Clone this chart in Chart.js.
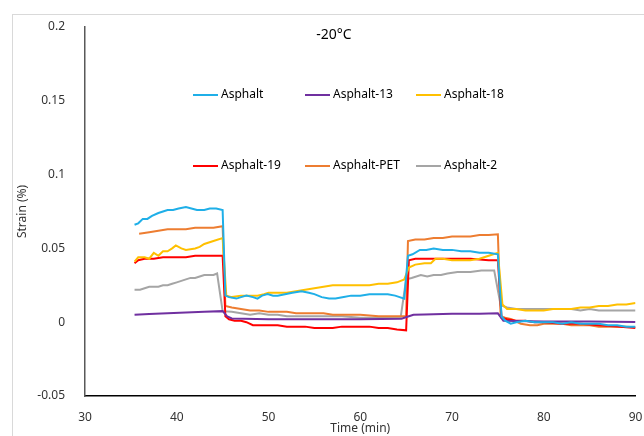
<!DOCTYPE html>
<html>
<head>
<meta charset="utf-8">
<script src="https://cdn.jsdelivr.net/npm/chart.js@4"></script>
<style>
  html, body { margin: 0; padding: 0; background: #fff; }
  #wrap { position: relative; width: 644px; height: 436px; overflow: hidden; }
  #frame { position: absolute; left: 12px; top: 14px; right: -2px; bottom: -2px; border: 1px solid #d9d9d9; }
  canvas { position: absolute; left: 0; top: 0; }
</style>
</head>
<body>
<div id="wrap">
  <div id="frame"></div>
  <canvas id="chart" width="644" height="436"></canvas>
</div>
<script>
// [time (min), strain (%)]
const asphalt = [
  [35.4, 0.066], [35.8, 0.067], [36.3, 0.070], [36.8, 0.070], [37.3, 0.072], [38, 0.074], [38.5, 0.075], [39, 0.076],
  [39.6, 0.076], [40.2, 0.077], [41, 0.078], [41.6, 0.077], [42.2, 0.076], [43, 0.076], [43.6, 0.077], [44.3, 0.077], [45, 0.076],
  [45.3, 0.018], [45.7, 0.017], [46.5, 0.016], [47, 0.017], [47.6, 0.018], [48.3, 0.017], [48.8, 0.016], [49.3, 0.018],
  [49.9, 0.019], [50.5, 0.018], [51, 0.018], [51.8, 0.019], [52.6, 0.020], [53.6, 0.021], [54.4, 0.020], [55, 0.019],
  [55.8, 0.017], [56.6, 0.016], [57.3, 0.016], [58.2, 0.017], [59, 0.018], [60, 0.018], [61, 0.019], [62, 0.019],
  [63, 0.019], [63.8, 0.018], [64.8, 0.016],
  [65.2, 0.045], [65.7, 0.046], [66.5, 0.049], [67.2, 0.049], [68, 0.050], [69, 0.049], [70, 0.049], [71, 0.048],
  [72, 0.048], [73, 0.047], [74, 0.047], [75, 0.046],
  [75.4, 0.004], [75.8, 0.001], [76.4, -0.001], [77, 0.0], [78, 0.001], [79, 0.0], [80, 0.0], [81, 0.0], [82, -0.001],
  [83, 0.0], [84, -0.001], [85, -0.001], [86, -0.001], [87, -0.002], [88, -0.002], [89, -0.003], [90, -0.003]
];
const asphalt13 = [
  [35.4, 0.005], [37, 0.0055], [39, 0.006], [41, 0.0065], [43, 0.007], [45, 0.0075], [45.5, 0.004], [46, 0.0025],
  [50, 0.002], [55, 0.002], [60, 0.002], [64.5, 0.0023], [65.3, 0.004], [65.8, 0.005], [67, 0.0053], [70, 0.0057],
  [73, 0.0057], [75, 0.006], [75.6, 0.001], [77, 0.0008], [80, 0.0005], [85, 0.0005], [90, 0.0002]
];
const asphalt18 = [
  [35.4, 0.041], [35.8, 0.044], [36.5, 0.044], [37, 0.043], [37.5, 0.047], [38, 0.045], [38.5, 0.048], [39, 0.048],
  [39.5, 0.050], [39.9, 0.052], [40.5, 0.050], [41, 0.049], [42, 0.050], [42.5, 0.051], [43, 0.053], [44, 0.055], [45, 0.057],
  [45.4, 0.018], [46, 0.017], [47, 0.018], [48, 0.018], [48.8, 0.018], [49.5, 0.019], [50, 0.020], [51, 0.020],
  [52, 0.020], [53, 0.021], [54, 0.022], [55, 0.023], [56, 0.024], [57, 0.025], [58, 0.025], [59, 0.025], [60, 0.025],
  [61, 0.025], [62, 0.026], [63, 0.026], [64, 0.027], [64.8, 0.029],
  [65.3, 0.037], [66, 0.039], [67, 0.040], [67.7, 0.040], [68.2, 0.043], [69, 0.043], [70, 0.042], [71, 0.042],
  [72, 0.042], [73, 0.043], [74, 0.045], [75, 0.047],
  [75.5, 0.012], [76, 0.009], [77, 0.009], [78, 0.008], [79, 0.008], [80, 0.008], [81, 0.009], [82, 0.009], [83, 0.009],
  [84, 0.010], [85, 0.010], [86, 0.011], [87, 0.011], [88, 0.012], [89, 0.012], [90, 0.013]
];
const asphalt19 = [
  [35.4, 0.040], [35.8, 0.042], [36.5, 0.043], [37.5, 0.043], [38.5, 0.044], [40, 0.044], [41, 0.044], [42, 0.045],
  [43, 0.045], [44, 0.045], [45, 0.045],
  [45.3, 0.004], [45.7, 0.002], [46.3, 0.001], [47, 0.001], [47.6, 0.0], [48.3, -0.002], [49, -0.002], [50, -0.002],
  [51, -0.002], [52, -0.003], [53, -0.003], [54, -0.003], [55, -0.004], [56, -0.004], [57, -0.004], [58, -0.003],
  [59, -0.003], [60, -0.003], [61, -0.003], [62, -0.004], [63, -0.004], [64, -0.005], [65, -0.0055],
  [65.3, 0.042], [66, 0.043], [68, 0.043], [70, 0.043], [72, 0.043], [74, 0.042], [75, 0.042],
  [75.4, 0.003], [76, 0.002], [77, 0.001], [78, 0.001], [79, 0.0], [80, 0.0], [82, -0.001], [84, -0.001],
  [86, -0.002], [88, -0.003], [90, -0.004]
];
const asphaltPET = [
  [35.9, 0.060], [37, 0.061], [38, 0.062], [39, 0.063], [40, 0.063], [41, 0.063], [42, 0.064], [43, 0.064], [44, 0.064], [45, 0.065],
  [45.3, 0.011], [46, 0.010], [47, 0.009], [48, 0.008], [49, 0.008], [50, 0.007], [51, 0.007], [52, 0.007], [53, 0.006],
  [54, 0.006], [55, 0.006], [56, 0.006], [57, 0.005], [58, 0.005], [59, 0.005], [60, 0.005], [62, 0.004], [64, 0.004], [65, 0.004],
  [65.2, 0.055], [66, 0.056], [67, 0.056], [68, 0.057], [69, 0.057], [70, 0.058], [71, 0.058], [72, 0.058], [73, 0.059],
  [74, 0.059], [75, 0.0595],
  [75.3, 0.004], [75.8, 0.003], [76.5, 0.002], [77.5, -0.001], [78.5, -0.002], [79.3, -0.002], [80, -0.001], [81, -0.001],
  [82, -0.001], [83, -0.002], [84, -0.002], [85, -0.002], [86, -0.003], [87, -0.003], [88, -0.003], [89, -0.003], [90, -0.0035]
];
const asphalt2 = [
  [35.4, 0.022], [36, 0.022], [36.5, 0.023], [37, 0.024], [38, 0.024], [38.5, 0.025], [39, 0.025], [39.5, 0.026],
  [40, 0.027], [41, 0.029], [41.5, 0.030], [42, 0.030], [42.5, 0.031], [43, 0.032], [44, 0.032], [44.4, 0.033],
  [45, 0.0075], [46, 0.007], [47, 0.006], [48, 0.005], [49, 0.006], [50, 0.005], [51, 0.005], [52, 0.004], [54, 0.004],
  [56, 0.004], [58, 0.004], [60, 0.003], [62, 0.003], [64.4, 0.003],
  [65, 0.029], [65.6, 0.030], [66.6, 0.032], [67.3, 0.031], [68, 0.032], [68.8, 0.032], [69.5, 0.033], [70.6, 0.034],
  [72, 0.034], [73.2, 0.035], [74.6, 0.035],
  [75.3, 0.0115], [76, 0.010], [77, 0.009], [78, 0.009], [79, 0.009], [80, 0.009], [81, 0.009], [82, 0.009], [83, 0.009],
  [84, 0.008], [85, 0.009], [86, 0.008], [87, 0.008], [88, 0.008], [89, 0.008], [90, 0.008]
];

const seriesNames = ["Asphalt", "Asphalt-13", "Asphalt-18", "Asphalt-19", "Asphalt-PET", "Asphalt-2"];
const seriesData = [asphalt, asphalt13, asphalt18, asphalt19, asphaltPET, asphalt2];
const seriesColors = ["#1fafe8", "#7030a0", "#ffc000", "#ff0000", "#ed7d31", "#a5a5a5"];
const chartTitle = "-20°C";

const FONT = "'Noto Sans', 'DejaVu Sans', sans-serif";

// Excel-style legend: 3 columns x 2 rows, drawn inside the plot area
const gridLegend = {
  id: "gridLegend",
  afterDraw(chart) {
    const ctx = chart.ctx;
    const cols = [193, 305, 416];
    const rows = [95, 166];
    ctx.save();
    ctx.font = `12px ${FONT}`;
    ctx.textBaseline = "middle";
    ctx.textAlign = "left";
    chart.data.datasets.forEach((ds, i) => {
      const x = cols[i % 3];
      const y = rows[Math.floor(i / 3)];
      ctx.strokeStyle = ds.borderColor;
      ctx.lineWidth = 2;
      ctx.beginPath();
      ctx.moveTo(x, y);
      ctx.lineTo(x + 25, y);
      ctx.stroke();
      ctx.fillStyle = "#000";
      ctx.fillText(ds.label, x + 28, y);
    });
    // title sits inside the plot area
    ctx.font = `14px ${FONT}`;
    ctx.textAlign = "center";
    ctx.fillText(chartTitle, 334, 35);
    ctx.restore();
  },
};

new Chart(document.getElementById("chart"), {
  type: "line",
  data: {
    datasets: seriesNames.map((name, i) => ({
      label: name,
      data: seriesData[i].map(([x, y]) => ({ x, y })),
      borderColor: seriesColors[i],
      backgroundColor: seriesColors[i],
      borderWidth: 2,
      pointRadius: 0,
      tension: 0,
      fill: false,
    })),
  },
  options: {
    responsive: false,
    animation: false,
    layout: { padding: { left: 0, right: 8.5, top: 27, bottom: 0 } },
    plugins: { legend: { display: false }, tooltip: { enabled: false } },
    scales: {
      x: {
        type: "linear",
        min: 30,
        max: 90,
        ticks: { stepSize: 10, color: "#333", font: { family: FONT, size: 12 }, padding: 0 },
        grid: { display: false, tickLength: 14 },
        border: { display: true, color: "#000", width: 1.5 },
        title: { display: true, text: "Time (min)", color: "#333", font: { family: FONT, size: 12 }, padding: { top: 0, bottom: 0 } },
        afterFit: (scale) => { scale.height = 40; },
      },
      y: {
        min: -0.05,
        max: 0.2,
        ticks: {
          stepSize: 0.05,
          color: "#333",
          font: { family: FONT, size: 12 },
          padding: 12,
          callback: (v) => String(Number(v.toFixed(2))),
        },
        grid: { display: false },
        border: { display: true, color: "#595959", width: 1.5 },
        title: { display: true, text: "Strain (%)", color: "#333", font: { family: FONT, size: 12 }, padding: { top: 15, bottom: 0 } },
        afterFit: (scale) => { scale.width = 85; },
      },
    },
  },
  plugins: [gridLegend],
});
</script>
</body>
</html>
